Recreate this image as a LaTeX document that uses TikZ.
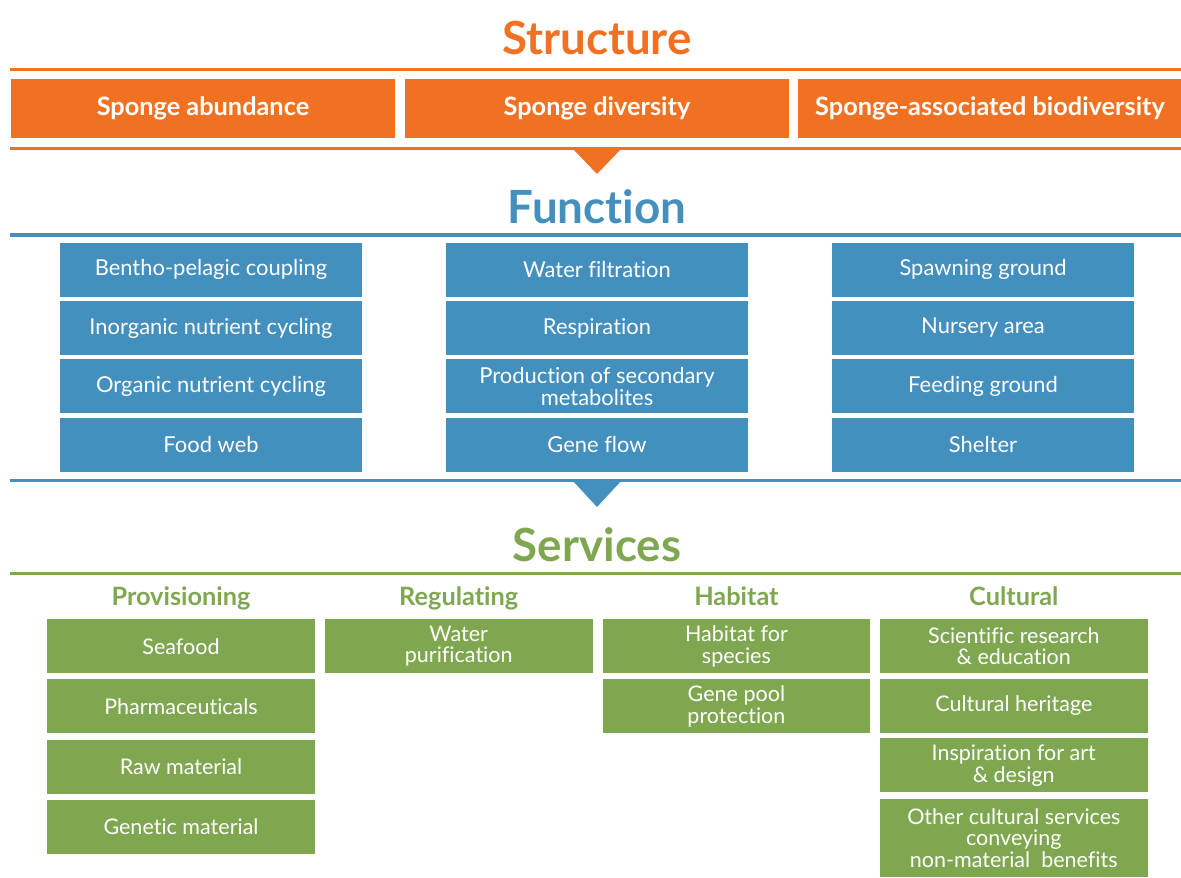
\documentclass[tikz,border=0pt]{standalone}
\usepackage{fontspec}
\setmainfont{Lato}[Ligatures=NoCommon]
\usetikzlibrary{positioning}
\usepackage{xcolor}
\definecolor{Flamenco}{RGB}{241, 113, 35}
\definecolor{Steel Blue}{RGB}{67, 143, 190}
\definecolor{Asparagus}{RGB}{127, 167, 80}

\tikzset{
	titulo/.style={font=\bfseries\fontsize{32.5}{34}\selectfont, anchor=base, inner sep=0pt},
	subtitulo/.style={font=\bfseries\fontsize{18}{20}\selectfont, text=Asparagus, anchor=base, inner sep=0pt},
	caja/.style={inner sep=0pt, align=center, text=white},
	caja estructura/.style={caja, fill=Flamenco, minimum width=9.6cm, minimum height=1.475cm, font=\bfseries\fontsize{18}{20}\selectfont},
	caja funcion/.style={caja, fill=Steel Blue, minimum width=7.55cm, minimum height=1.35cm, font=\fontsize{15.6}{15.6}\selectfont},
	caja servicio/.style={caja, fill=Asparagus, minimum width=6.69cm, minimum height=1.35cm, font=\fontsize{15.3}{15.4}\selectfont},
	separador/.style={line width=2.2pt}
}

\begin{document}
\begin{tikzpicture}[x=0.025cm, y=-0.025cm]
	\useasboundingbox (0,0) rectangle (1181,878);

	% Estructura
	\node[titulo, text=Flamenco] (estructura) at (597,55) {Structure};
	\draw[separador, Flamenco] (10,69.5) -- (1181,69.5);
	\node[caja estructura] (abundancia) at (203,108.5) {Sponge abundance};
	\node[caja estructura] (diversidad) at (597,108.5) {Sponge diversity};
	\node[caja estructura] (asociada) at (990,108.5) {Sponge-associated biodiversity};
	\draw[separador, Flamenco] (10,148.5) -- (1181,148.5);
	\fill[Flamenco] (572,148) -- (622,148) -- (597,174) -- cycle;

	% Funcion
	\node[titulo, text=Steel Blue] (funcion) at (597,224) {Function};
	\draw[separador, Steel Blue] (10,235) -- (1181,235);
	\node[caja funcion] (bentho) at (211,269.7) {Bentho-pelagic coupling};
	\node[caja funcion] (inorganico) at (211,328) {Inorganic nutrient cycling};
	\node[caja funcion] (organico) at (211,386.3) {Organic nutrient cycling};
	\node[caja funcion] (red) at (211,444.7) {Food web};
	\node[caja funcion] (filtracion) at (597,269.7) {Water filtration};
	\node[caja funcion] (respiracion) at (597,328) {Respiration};
	\node[caja funcion] (metabolitos) at (597,386.3) {Production of secondary\\metabolites};
	\node[caja funcion] (flujo) at (597,444.7) {Gene flow};
	\node[caja funcion] (desove) at (983,269.7) {Spawning ground};
	\node[caja funcion] (criadero) at (983,328) {Nursery area};
	\node[caja funcion] (alimentacion) at (983,386.3) {Feeding ground};
	\node[caja funcion] (refugio) at (983,444.7) {Shelter};
	\draw[separador, Steel Blue] (10,480.5) -- (1181,480.5);
	\fill[Steel Blue] (572,480) -- (622,480) -- (597,507) -- cycle;

	% Servicios
	\node[titulo, text=Asparagus] (servicios) at (597,561.7) {Services};
	\draw[separador, Asparagus] (10,573.5) -- (1181,573.5);
	\node[subtitulo] (aprovisionamiento) at (181,605) {Provisioning};
	\node[subtitulo] (regulacion) at (458.7,605) {Regulating};
	\node[subtitulo] (habitat) at (736.4,605) {Habitat};
	\node[subtitulo] (cultural) at (1013.8,605) {Cultural};

	\node[caja servicio] (marisco) at (181,646.3) {Seafood};
	\node[caja servicio] (farmacos) at (181,706.3) {Pharmaceuticals};
	\node[caja servicio] (materia) at (181,767) {Raw material};
	\node[caja servicio] (genetico) at (181,827) {Genetic material};
	\node[caja servicio] (purificacion) at (458.7,646.3) {Water\\purification};
	\node[caja servicio] (especies) at (736.4,646.3) {Habitat for\\species};
	\node[caja servicio] (acervo) at (736.4,706.3) {Gene pool\\protection};
	\node[caja servicio] (ciencia) at (1013.8,646.3) {Scientific research\\\& education};
	\node[caja servicio] (herencia) at (1013.8,706) {Cultural heritage};
	\node[caja servicio] (arte) at (1013.8,765.3) {Inspiration for art\\\& design};
	\node[caja servicio, minimum height=1.94cm] (otros) at (1013.8,838) {Other cultural services\\conveying\\non-material\ \ benefits};
\end{tikzpicture}
\end{document}
